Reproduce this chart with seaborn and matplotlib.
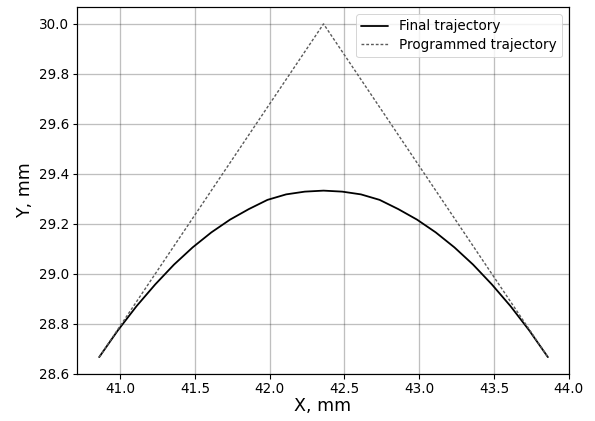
import numpy as np
import pandas as pd
import matplotlib
matplotlib.use("Agg")
import matplotlib.pyplot as plt
import seaborn as sns

# Final (measured) trajectory, sampled every 0.125 mm in X
final_x = [40.86, 40.985, 41.11, 41.235, 41.36, 41.485, 41.61, 41.735, 41.86,
           41.985, 42.11, 42.235, 42.36, 42.485, 42.61, 42.735, 42.86, 42.985,
           43.11, 43.235, 43.36, 43.485, 43.61, 43.735, 43.86]
final_y = [28.667, 28.774, 28.871, 28.958, 29.037, 29.106, 29.166, 29.217,
           29.259, 29.296, 29.318, 29.329, 29.333, 29.329, 29.318, 29.296,
           29.259, 29.217, 29.166, 29.106, 29.037, 28.958, 28.871, 28.774,
           28.667]

# Programmed trajectory: corner path
prog_x = [40.86, 42.36, 43.86]
prog_y = [28.667, 30.0, 28.667]

x_ticks = [41.0, 41.5, 42.0, 42.5, 43.0, 43.5, 44.0]
y_ticks = [28.6, 28.8, 29.0, 29.2, 29.4, 29.6, 29.8, 30.0]

sns.set_theme(style="ticks")
plt.rcParams["font.family"] = ["DejaVu Sans"]
plt.rcParams["text.color"] = "black"
plt.rcParams["axes.labelcolor"] = "black"
plt.rcParams["xtick.color"] = "black"
plt.rcParams["ytick.color"] = "black"

fig = plt.figure(figsize=(595 / 72, 421 / 72), dpi=72)
ax = fig.add_axes([0.129, 0.112, 0.827, 0.871])

final_df = pd.DataFrame({"x": final_x, "y": final_y})
prog_df = pd.DataFrame({"x": prog_x, "y": prog_y})

sns.lineplot(data=final_df, x="x", y="y", ax=ax, color="black", lw=1.8,
             estimator=None, sort=False, label="Final trajectory")
sns.lineplot(data=prog_df, x="x", y="y", ax=ax, color="#5a5a5a", lw=1.4,
             estimator=None, sort=False, label="Programmed trajectory",
             linestyle=(0, (2.0, 1.4)))

ax.set_xticks(x_ticks)
ax.set_yticks(y_ticks)
ax.set_xticklabels([f"{v:.1f}" for v in x_ticks])
ax.set_yticklabels([f"{v:.1f}" for v in y_ticks])
ax.tick_params(labelsize=13.5, length=4.5, width=1.1, color="black",
               direction="out", pad=3.5)
ax.set_xlim(40.71, 44.0)
ax.set_ylim(28.6, 30.067)

ax.grid(True, color="black", alpha=0.25, lw=1.3)
for s in ax.spines.values():
    s.set_color("black")
    s.set_linewidth(1.2)

ax.set_xlabel("X, mm", fontsize=17.5, labelpad=1)
ax.set_ylabel("Y, mm", fontsize=17.5, labelpad=4)

ax.legend(loc="upper right", fontsize=13.5, frameon=True, borderaxespad=0.5,
          handlelength=2.0, borderpad=0.4, labelspacing=0.35)

fig.savefig("out.png", dpi=72)
